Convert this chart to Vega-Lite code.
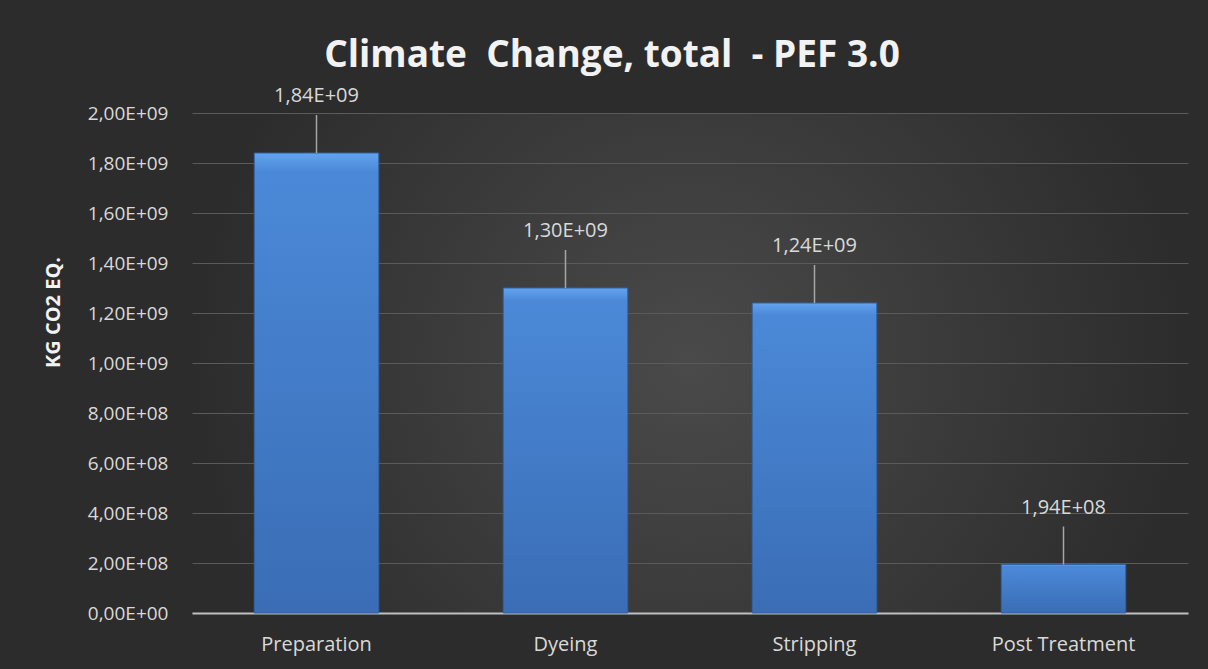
{
  "$schema": "https://vega.github.io/schema/vega-lite/v6.json",
  "width": 996,
  "height": 500,
  "autosize": {"type": "none"},
  "padding": {"left": 192, "top": 113, "right": 20, "bottom": 56},
  "background": "#2c2c2c",
  "title": {
    "text": "Climate\u00a0 Change, total\u00a0 - PEF 3.0",
    "font": "Open Sans",
    "fontSize": 37,
    "fontWeight": "bold",
    "color": "#f2f2f2",
    "anchor": "middle",
    "dx": -78,
    "offset": 11
  },
  "data": {
    "values": [
      {"phase": "Preparation", "value": 1840000000},
      {"phase": "Dyeing", "value": 1300000000},
      {"phase": "Stripping", "value": 1240000000},
      {"phase": "Post Treatment", "value": 194000000}
    ]
  },
  "transform": [
    {"calculate": "replace(split(format(datum.value,'.2e'),'e')[0],'.',',') + 'E' + (toNumber(split(format(datum.value,'.2e'),'e')[1]) >= 0 ? '+' : '-') + pad(abs(toNumber(split(format(datum.value,'.2e'),'e')[1])) + '', 2, '0', 'left')", "as": "label"}
  ],
  "encoding": {
    "x": {
      "field": "phase",
      "type": "nominal",
      "sort": null,
      "scale": {"paddingInner": 0.5, "paddingOuter": 0.25},
      "axis": {
        "title": null,
        "labelAngle": 0,
        "labelFont": "Open Sans",
        "labelFontSize": 20,
        "labelColor": "#d9d9d9",
        "labelPadding": 21,
        "ticks": false,
        "domainColor": "#bfbfbf",
        "domainWidth": 2,
        "grid": false
      }
    },
    "y": {
      "field": "value",
      "type": "quantitative",
      "scale": {"domain": [0, 2000000000], "nice": false},
      "axis": {
        "title": "KG CO2 EQ.",
        "titleFont": "Open Sans",
        "titleFontSize": 20,
        "titleFontWeight": "bold",
        "titleColor": "#f2f2f2",
        "titleAngle": -90,
        "titleX": -139,
        "titleY": 199,
        "titleAlign": "center",
        "titleBaseline": "middle",
        "values": [0, 200000000, 400000000, 600000000, 800000000, 1000000000, 1200000000, 1400000000, 1600000000, 1800000000, 2000000000],
        "labelExpr": "replace(split(format(datum.value,'.2e'),'e')[0],'.',',') + 'E' + (toNumber(split(format(datum.value,'.2e'),'e')[1]) >= 0 ? '+' : '-') + pad(abs(toNumber(split(format(datum.value,'.2e'),'e')[1])) + '', 2, '0', 'left')",
        "labelFont": "Open Sans",
        "labelFontSize": 19,
        "labelColor": "#d9d9d9",
        "labelPadding": 24,
        "ticks": false,
        "domain": false,
        "grid": true,
        "gridColor": "#5a5a5a",
        "gridWidth": 1
      }
    }
  },
  "layer": [
    {
      "mark": {
        "type": "bar",
        "stroke": "#2f62a6",
        "strokeWidth": 1,
        "fill": {
          "gradient": "linear",
          "x1": 0, "y1": 0, "x2": 0, "y2": 1,
          "stops": [
            {"offset": 0, "color": "#63a3ee"},
            {"offset": 0.04, "color": "#4b89d8"},
            {"offset": 1, "color": "#3a6db5"}
          ]
        }
      }
    },
    {
      "mark": {"type": "rule", "color": "#a6a6a6", "strokeWidth": 1.5, "y2Offset": -38},
      "encoding": {"y2": {"field": "value"}}
    },
    {
      "mark": {"type": "text", "font": "Open Sans", "fontSize": 20, "color": "#d9d9d9", "baseline": "middle", "dy": -57},
      "encoding": {"text": {"field": "label"}}
    }
  ],
  "config": {
    "view": {
      "stroke": null,
      "fill": {
        "gradient": "radial",
        "x1": 0.5, "y1": 0.5, "r1": 0,
        "x2": 0.5, "y2": 0.5, "r2": 0.5,
        "stops": [
          {"offset": 0, "color": "#4a4a4a"},
          {"offset": 1, "color": "#2c2c2c"}
        ]
      }
    }
  }
}
